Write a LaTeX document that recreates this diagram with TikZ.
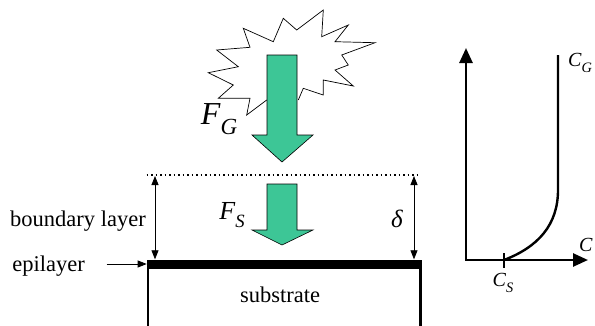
\documentclass[tikz,border=0pt]{standalone}
\usepackage{fontspec}
\setmainfont{Liberation Serif}
\usepackage{graphicx}
\usetikzlibrary{arrows.meta, calc}
\definecolor{fluxgreen}{RGB}{61,198,150}
\newcommand{\csym}[2]{\textit{#1}\raisebox{-.3em}{\scalebox{.72}{\textit{#2}}}}

\begin{document}
\begin{tikzpicture}[x=1pt, y=-1pt, >={Triangle[length=9pt, width=7pt]},
  every node/.style={font=\fontsize{22.5}{27}\selectfont, inner sep=0pt},
  flux/.style={fill=fluxgreen, draw=black, line width=0.6pt},
  axis/.style={line width=2.6pt, {Triangle[length=15pt, width=13pt]}-{Triangle[length=15pt, width=13pt]}}]
  \useasboundingbox (0,0) rectangle (595,325);
  % glow of the gas phase
  \draw[line width=0.7pt, fill=white] (266.7,100) -- (246.7,115) -- (250,98.3) -- (218.3,98.3) -- (233.3,85) -- (208.3,72.7) -- (238.3,66.7) -- (216.7,50) -- (250,47.3) -- (243.3,28.3) -- (273.3,41.7) -- (283.3,18.3) -- (296.7,30) -- (323.3,10) -- (321.7,36.7) -- (348.3,25) -- (335,41.7) -- (375,42.7) -- (341.7,55) -- (348.3,65) -- (335,70) -- (353.3,86) -- (323.3,80) -- (323.3,95) -- (303.3,88.3) -- (298.3,100);
  % fluxes
  \foreach \ytop/\yneck/\ytip in {55/135/162, 184/230/245}
    \draw[flux] (267,\ytop) -- (297,\ytop) -- (297,\yneck) -- (313,\yneck) -- (282,\ytip) -- (252,\yneck) -- (267,\yneck) -- cycle;
  \node (FG) at (219,119) {\fontsize{32}{32}\selectfont\csym{F}{G}};
  \node (FS) at (232,215) {\fontsize{26}{26}\selectfont\csym{F}{S}};
  % epilayer and substrate
  \node[fill=black, minimum width=274.6pt, minimum height=9pt, anchor=north west] (bar) at (146.7,259.3) {};
  \draw[line width=2.6pt] ([xshift=1.3pt]bar.south west) -- ++(0,70);
  \draw[line width=2.6pt] ([xshift=-1.3pt]bar.south east) -- ++(0,70);
  \node (sub) at (280,295) {substrate};
  \node (epi) at (48.5,266.5) {epilayer};
  \draw[->, line width=0.8pt] ([xshift=-40pt]bar.west) -- (bar.west);
  % boundary layer
  \coordinate (topL) at (146.7,175);
  \coordinate (topR) at (417,175);
  \draw[dash pattern=on 1.3pt off 3.2pt, line width=1.3pt] (topL) -- (topR);
  \coordinate (blT) at (155,176);
  \coordinate (dT) at (414,176);
  \draw[<->, line width=0.8pt] (blT) -- (blT |- bar.north);
  \draw[<->, line width=0.8pt] (dT) -- (dT |- bar.north);
  \node (bl) at (78,221) {boundary layer};
  \node (delta) at (397,219) {\fontsize{25}{25}\selectfont\textit{δ}};
  % concentration profile
  \coordinate (O) at (466,260);
  \coordinate (ytip) at (466,48);
  \coordinate (xtip) at (588,260);
  \coordinate (cs) at (504,260);
  \draw[axis] (ytip) -- (O) -- (xtip);
  \draw[line width=2.6pt] ([yshift=7pt]cs) -- ([yshift=-8pt]cs);
  \draw[line width=2.4pt] (cs) .. controls (538,247) and (558,225) .. (558,190) -- (558,55);
  \node (CG) at (580,63) {\fontsize{20}{20}\selectfont\csym{C}{G}};
  \node (CS) at (503,283) {\fontsize{20}{20}\selectfont\csym{C}{S}};
  \node[anchor=west] (C) at (579,245) {\fontsize{20}{20}\selectfont\textit{C}};
\end{tikzpicture}
\end{document}
